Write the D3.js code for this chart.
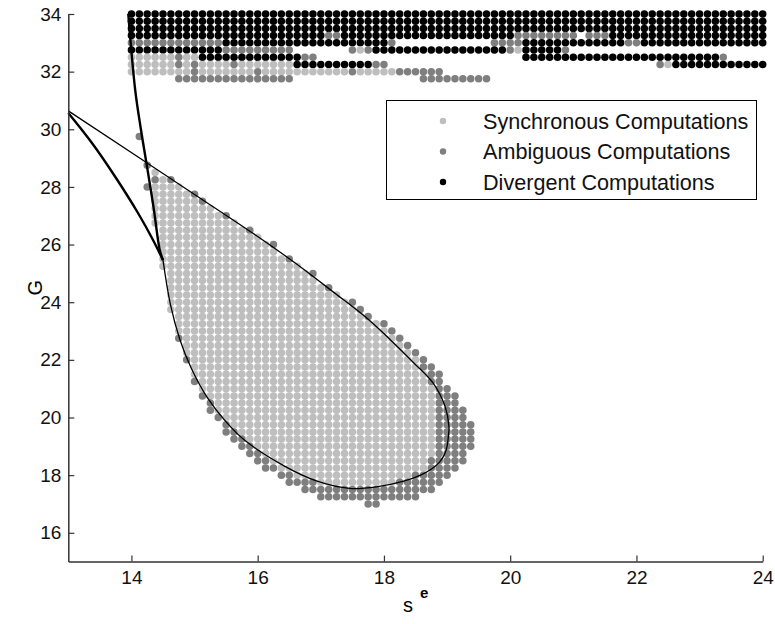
<!DOCTYPE html>
<html><head><meta charset="utf-8">
<script src="https://cdn.jsdelivr.net/npm/d3@7"></script>
<style>body{margin:0;background:#fff}text{font-family:"Liberation Sans",Arial,sans-serif}</style>
</head><body><svg id="c" width="775" height="624"></svg>
<script>
// ---- data ----
const xTicks = [14, 16, 18, 20, 22, 24];
const yTicks = [16, 18, 20, 22, 24, 26, 28, 30, 32, 34];
const gridStartX = 14;      // first grid column (s^e)
const gridStepX = 0.125;    // grid column step
// top band rows: [G, run-length code per column]  b=divergent g=ambiguous s=synchronous .=none
const bandRows = [
  [34.00, "b81"],
  [33.75, "b81"],
  [33.50, "b81"],
  [33.25, "b25 g2 b22 g8 .1 g3 b20"],
  [33.00, "g12 b21 g1 .12 g4 b13 g2 b16"],
  [32.75, "b12 g9 .7 g1 s1 g1 b17 g1 s1 b5 g1 .25"],
  [32.50, "s6 g1 s2 b13 g2 .26 b25 g1 .5"],
  [32.25, "s6 g1 s1 g1 s4 g1 s7 b10 g2 .34 g1 s1 b12"],
  [32.00, "s8 g1 s7 g1 s11 g1 s5 g6 .41"],
  [31.75, ".6 g15 .16 g9 .35"]
];
// lower region rows
const blobRows = [
  [29.75, ".1 g1"],
  [28.75, ".2 g1"],
  [28.50, ".3 s1"],
  [28.25, ".3 g1 s1 g1"],
  [28.00, ".2 g1 s4"],
  [27.75, ".3 s5 g1"],
  [27.50, ".3 s6 g1"],
  [27.25, ".3 s8"],
  [27.00, ".3 s9 g1"],
  [26.75, ".3 s11"],
  [26.50, ".4 s11 g1"],
  [26.25, ".4 s13"],
  [26.00, ".4 s14 g1"],
  [25.75, ".4 s15"],
  [25.50, ".4 s16 g1"],
  [25.25, ".4 s18"],
  [25.00, ".5 s18 g1"],
  [24.75, ".5 s19"],
  [24.50, ".5 s20 g1"],
  [24.25, ".5 s22"],
  [24.00, ".5 s23 g1"],
  [23.75, ".5 s24 g1"],
  [23.50, ".6 s24 g1"],
  [23.25, ".6 s26 g1"],
  [23.00, ".6 s27 g1"],
  [22.75, ".6 g1 s27 g1"],
  [22.50, ".7 s28 g1"],
  [22.25, ".7 s29 g1"],
  [22.00, ".7 g1 s29 g1"],
  [21.75, ".8 s29 g2"],
  [21.50, ".8 s30 g2"],
  [21.25, ".8 g1 s29 g2"],
  [21.00, ".9 s30 g2"],
  [20.75, ".9 g1 s29 g3"],
  [20.50, ".10 g1 s28 g3"],
  [20.25, ".10 g1 s28 g4"],
  [20.00, ".11 g1 s27 g4"],
  [19.75, ".12 g1 s26 g5"],
  [19.50, ".12 g2 s25 g5"],
  [19.25, ".13 g2 s24 g5"],
  [19.00, ".14 g2 s23 g5"],
  [18.75, ".15 g2 s22 g4"],
  [18.50, ".16 g2 s20 g5"],
  [18.25, ".17 g2 s19 g4"],
  [18.00, ".19 g2 s15 g5"],
  [17.75, ".20 g4 s10 g6"],
  [17.50, ".22 g17"],
  [17.25, ".24 g13"],
  [17.00, ".30 g2"]
];
// curves [s^e, G]
const thinCurve = [[13.0,30.64],[15.0,27.74],[16.0,26.28],[16.6,25.35],[17.2,24.35],[17.7,23.5],[18.1,22.7],[18.47,21.9],[18.78,21.19],[18.97,20.37],[19.03,19.68],[19.02,19.33],[19.0,19.0],[18.96,18.72],[18.88,18.45],[18.76,18.22],[18.58,18.0],[18.3,17.78],[17.9,17.6],[17.46,17.54],[16.93,17.8],[16.41,18.33],[15.8,19.2],[15.5,19.85],[15.2,20.7],[14.95,21.7],[14.77,22.69],[14.62,23.9],[14.5,25.46]];
const thickSteep = [[13.95,34.0],[14.06,31.36],[14.15,30.0],[14.24,28.8],[14.35,27.3],[14.45,25.8],[14.5,25.46]];
const thickCurved = [[13.0,30.565],[13.375,29.524],[13.756,28.31],[14.104,27.095],[14.342,26.158],[14.5,25.46]];
const legendLabels = ["Synchronous Computations", "Ambiguous Computations", "Divergent Computations"];
const legendKeys = ["s", "g", "b"];
const classColors = { s: "#bebebe", g: "#7f7f7f", b: "#000000" };

// ---- drawing ----
const svg = d3.select("#c");
const x = d3.scaleLinear().domain([13, 24]).range([68.3, 762.7]);
const y = d3.scaleLinear().domain([15, 34]).range([561.6, 14]);

function decode(code) {
  const out = [];
  code.split(" ").forEach(tok => {
    const k = tok[0], n = +tok.slice(1);
    for (let i = 0; i < n; i++) out.push(k);
  });
  return out;
}
const points = [];
[...bandRows, ...blobRows].forEach(([g, code]) => {
  decode(code).forEach((k, i) => {
    if (k !== ".") points.push({ sx: gridStartX + i * gridStepX, g, k });
  });
});

svg.append("g").selectAll("circle").data(points).join("circle")
  .attr("cx", d => x(d.sx)).attr("cy", d => y(d.g)).attr("r", 3.75)
  .attr("fill", d => classColors[d.k]);

const line = d3.line().x(d => x(d[0])).y(d => y(d[1])).curve(d3.curveCatmullRom.alpha(0.5));
svg.append("path").attr("d", line(thinCurve)).attr("fill", "none").attr("stroke", "#000").attr("stroke-width", 1.3);
svg.append("path").attr("d", line(thickSteep)).attr("fill", "none").attr("stroke", "#000").attr("stroke-width", 2.4);
svg.append("path").attr("d", line(thickCurved)).attr("fill", "none").attr("stroke", "#000").attr("stroke-width", 2.4);

// axes
const ax = svg.append("g").attr("transform", `translate(0,${y(15)})`)
  .call(d3.axisBottom(x).tickValues(xTicks).tickSize(-6).tickSizeOuter(0).tickPadding(9).tickFormat(d3.format("d")));
const ay = svg.append("g").attr("transform", `translate(${x(13)},0)`)
  .call(d3.axisLeft(y).tickValues(yTicks).tickSize(-6).tickSizeOuter(0).tickPadding(7).tickFormat(d3.format("d")));
[ax, ay].forEach(a => {
  a.select(".domain").attr("stroke", "#333").attr("stroke-width", 1.5);
  a.selectAll(".tick line").attr("stroke", "#333").attr("stroke-width", 1.2);
  a.selectAll(".tick text").attr("font-size", 19).attr("fill", "#111")
    .attr("font-family", "'Liberation Sans', Arial, sans-serif");
});

// axis labels
svg.append("text").attr("transform", `translate(42,${y(24.5)}) rotate(-90)`)
  .attr("text-anchor", "middle").attr("font-size", 20).text("G");
const xl = svg.append("text").attr("x", 403).attr("y", 612).attr("font-size", 20);
xl.append("tspan").text("s");
xl.append("tspan").attr("dx", 7).attr("dy", -14).attr("font-size", 15).attr("font-weight", "bold").text("e");

// legend
const lg = svg.append("g");
lg.append("rect").attr("x", 386.5).attr("y", 100.5).attr("width", 370).attr("height", 99)
  .attr("fill", "#fff").attr("stroke", "#000").attr("stroke-width", 1);
legendLabels.forEach((t, i) => {
  const cy = 121 + i * 30.5;
  lg.append("circle").attr("cx", 443).attr("cy", cy).attr("r", 3.2).attr("fill", classColors[legendKeys[i]]);
  lg.append("text").attr("x", 483).attr("y", cy).attr("dy", "0.35em").attr("font-size", 21.6).attr("fill", "#111").text(t);
});
</script>
</body></html>
